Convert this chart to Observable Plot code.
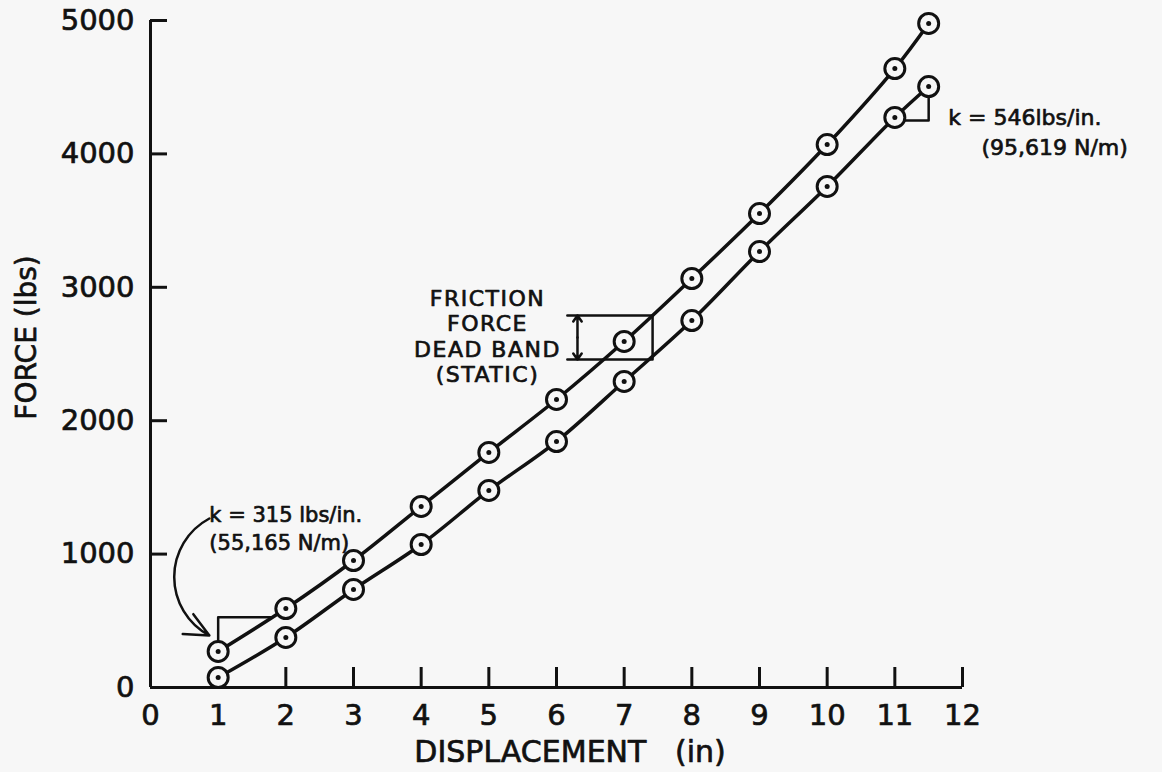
<!DOCTYPE html>
<html>
<head>
<meta charset="utf-8">
<script src="https://cdn.jsdelivr.net/npm/d3@7"></script>
<script src="https://cdn.jsdelivr.net/npm/@observablehq/plot@0.6"></script>
<style>
  html, body { margin: 0; padding: 0; background: #f7f7f7; }
</style>
</head>
<body>
<div id="chart"></div>
<script>
// ---- data ----
const displacement = [1, 2, 3, 4, 5, 6, 7, 8, 9, 10, 11, 11.5];           // in
const forceUpper   = [270, 592, 952, 1357, 1762, 2159, 2594, 3066, 3553, 4070, 4640, 4978]; // lbs
const forceLower   = [75, 375, 735, 1072, 1477, 1844, 2294, 2751, 3268, 3756, 4273, 4505];  // lbs
const xTicks = [0, 1, 2, 3, 4, 5, 6, 7, 8, 9, 10, 11, 12];
const yTicks = [0, 1000, 2000, 3000, 4000, 5000];

// annotation geometry (data units)
const slopeLowX  = [1, 1, 1.79];
const slopeLowY  = [270, 526, 526];
const slopeHighX = [11, 11.5, 11.5];
const slopeHighY = [4250, 4250, 4505];
const bandX = [6.16, 7.42, 7.42, 6.16];
const bandY = [2789, 2789, 2459, 2459];
const bandArrowX = 6.31;
const bandArrowEnds = [2789, 2459];
const bandArrowMid = 2624;
const curvedArrow = {x1: 0.87, y1: 1267, x2: 0.87, y2: 390};

const labels = {
  x: "DISPLACEMENT\u00a0\u00a0\u00a0(in)",
  y: "FORCE (lbs)",
  kLow: ["k = 315 lbs/in.", "(55,165 N/m)"],
  kHigh: ["k = 546lbs/in.", "(95,619 N/m)"],
  band: "FRICTION\nFORCE\nDEAD BAND\n(STATIC)"
};

const table = [
  ...displacement.map((d, i) => ({x: d, y: forceUpper[i], s: "upper"})),
  ...displacement.map((d, i) => ({x: d, y: forceLower[i], s: "lower"}))
];
const bg = "#f7f7f7";
const ink = "#111";
const txt = {fill: ink, stroke: ink, strokeWidth: 0.7};

const chart = Plot.plot({
  width: 1162,
  height: 772,
  marginLeft: 150,
  marginRight: 200,
  marginTop: 20,
  marginBottom: 85,
  style: {fontFamily: "DejaVu Sans", background: bg, color: ink, overflow: "visible"},
  x: {domain: [0, 12]},
  y: {domain: [0, 5000]},
  marks: [
    Plot.ruleY([0], {stroke: ink, strokeWidth: 3}),
    Plot.ruleX([0], {stroke: ink, strokeWidth: 3}),
    Plot.axisX({ticks: xTicks, tickSize: -20, tickPadding: 37, stroke: ink, strokeWidth: 3, fontSize: 29, fill: ink, tickFormat: d => String(d), label: null}),
    Plot.axisY({ticks: yTicks, tickSize: -17, tickPadding: 33, stroke: ink, strokeWidth: 3, fontSize: 29, fill: ink, tickFormat: d => String(d), label: null}),
    Plot.text([labels.x], {x: 6.2, frameAnchor: "bottom", lineAnchor: "middle", dy: 65, fontSize: 30, ...txt}),
    Plot.text([labels.y], {y: 2624, frameAnchor: "left", textAnchor: "middle", lineAnchor: "middle", dx: -123, rotate: -90, fontSize: 28, ...txt}),

    // slope triangles and dead band box
    Plot.line(slopeLowX.map((d, i) => ({x: d, y: slopeLowY[i]})), {x: "x", y: "y", stroke: ink, strokeWidth: 2.5}),
    Plot.line(slopeHighX.map((d, i) => ({x: d, y: slopeHighY[i]})), {x: "x", y: "y", stroke: ink, strokeWidth: 2.5}),
    Plot.line(bandX.map((d, i) => ({x: d, y: bandY[i]})), {x: "x", y: "y", stroke: ink, strokeWidth: 2.5}),
    Plot.arrow(bandArrowEnds, {x1: bandArrowX, x2: bandArrowX, y1: bandArrowMid, y2: d => d, headLength: 11, headAngle: 70, stroke: ink, strokeWidth: 2.5}),
    Plot.arrow([curvedArrow], {x1: "x1", y1: "y1", x2: "x2", y2: "y2", bend: -62, headLength: 16, headAngle: 50, stroke: ink, strokeWidth: 2.5}),

    // curves and points
    Plot.line(table, {x: "x", y: "y", z: "s", curve: "catmull-rom", stroke: ink, strokeWidth: 3.5}),
    Plot.dot(table, {x: "x", y: "y", r: 10, fill: bg, stroke: ink, strokeWidth: 3}),
    Plot.dot(table, {x: "x", y: "y", r: 2.5, fill: ink, stroke: null}),

    // annotation texts
    Plot.text([labels.kLow[0]], {x: 0.87, y: 1289, textAnchor: "start", fontSize: 21, ...txt}),
    Plot.text([labels.kLow[1]], {x: 0.87, y: 1079, textAnchor: "start", fontSize: 21, ...txt}),
    Plot.text([labels.kHigh[0]], {x: 11.79, y: 4273, textAnchor: "start", fontSize: 22, ...txt}),
    Plot.text([labels.kHigh[1]], {x: 12.28, y: 4048, textAnchor: "start", fontSize: 22, ...txt}),
    Plot.text([labels.band], {x: 4.98, y: 2635, fontSize: 22, lineHeight: 1.14, ...txt, ariaDescription: "friction"})
  ]
});

document.getElementById("chart").appendChild(chart);
d3.select(chart).selectAll('g[aria-description="friction"] text').attr("letter-spacing", "1.5px");
d3.select(chart).selectAll('g[aria-label="x-axis tick label"] text, g[aria-label="y-axis tick label"] text')
  .attr("stroke", ink).attr("stroke-width", 0.7);
</script>
</body>
</html>
